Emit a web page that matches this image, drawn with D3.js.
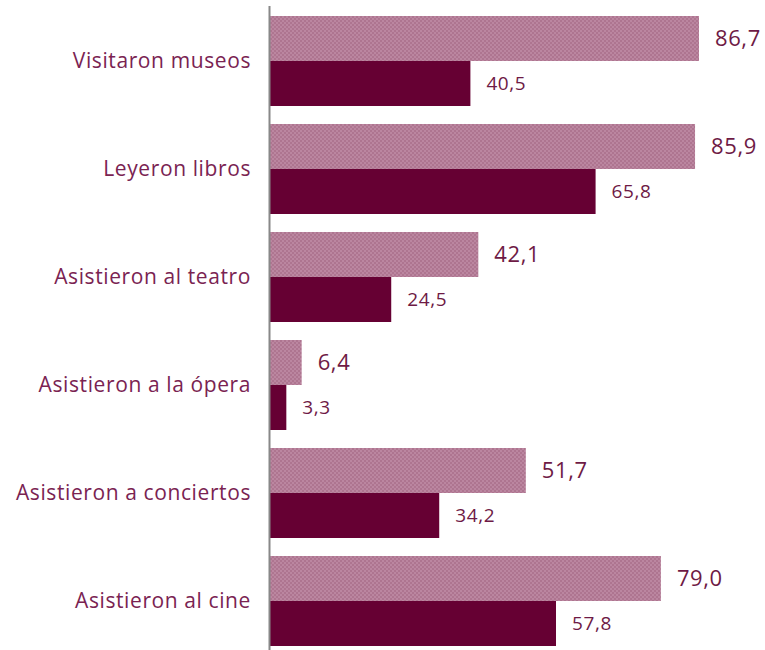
<!DOCTYPE html>
<html><head><meta charset="utf-8">
<script src="https://cdn.jsdelivr.net/npm/d3@7"></script>
<style>body{margin:0;background:#fff}</style>
</head><body>
<svg id="c" width="765" height="650"></svg>
<script>
const categories = ["Visitaron museos","Leyeron libros","Asistieron al teatro","Asistieron a la ópera","Asistieron a conciertos","Asistieron al cine"];
const seriesLight = [86.7, 85.9, 42.1, 6.4, 51.7, 79.0];
const seriesDark = [40.5, 65.8, 24.5, 3.3, 34.2, 57.8];

const svg = d3.select("#c");
const x0 = 270;
const FONT = "'Open Sans', sans-serif";
const x = d3.scaleLinear().domain([0, 86.7]).range([x0, 699]);
const y = d3.scaleBand().domain(categories).range([7, 655]).paddingInner(1/6).paddingOuter(1/12);
const fmt = v => d3.format(".1f")(v).replace(".", ",");

const defs = svg.append("defs");
const pat = defs.append("pattern").attr("id","chk").attr("patternUnits","userSpaceOnUse").attr("width",4).attr("height",4);
pat.append("rect").attr("width",4).attr("height",4).attr("fill","#bb86a0");
pat.append("rect").attr("width",2).attr("height",2).attr("fill","#ae7590");
pat.append("rect").attr("x",2).attr("y",2).attr("width",2).attr("height",2).attr("fill","#ae7590");

const half = y.bandwidth()/2;
const g = svg.append("g");
categories.forEach((c,i)=>{
  const top = y(c);
  g.append("rect").attr("x",x0).attr("y",top).attr("width",x(seriesLight[i])-x0).attr("height",half).attr("fill","url(#chk)");
  g.append("rect").attr("x",x0).attr("y",top+half).attr("width",x(seriesDark[i])-x0).attr("height",half).attr("fill","#660033");
  g.append("text").attr("x",x(seriesLight[i])+16).attr("y",top+half/2).attr("dy","0.36em")
    .attr("font-family",FONT).attr("font-size",22).attr("letter-spacing",0.6).attr("fill","#6e1a45").text(fmt(seriesLight[i]));
  g.append("text").attr("x",x(seriesDark[i])+16).attr("y",top+half*1.5).attr("dy","0.36em")
    .attr("font-family",FONT).attr("font-size",19).attr("letter-spacing",0.6).attr("fill","#6e1a45").text(fmt(seriesDark[i]));
});

const yAxis = d3.axisLeft(y).tickSize(0).tickPadding(19);
const ag = svg.append("g").attr("transform",`translate(${x0},0)`).call(yAxis);
ag.select(".domain").remove();
ag.selectAll("text").attr("font-family",FONT).attr("font-size",21).attr("letter-spacing",0.6).attr("fill","#7a2352");
svg.append("line").attr("x1",x0-0.5).attr("x2",x0-0.5).attr("y1",6).attr("y2",650).attr("stroke","#888").attr("stroke-width",2);
</script>
</body></html>
